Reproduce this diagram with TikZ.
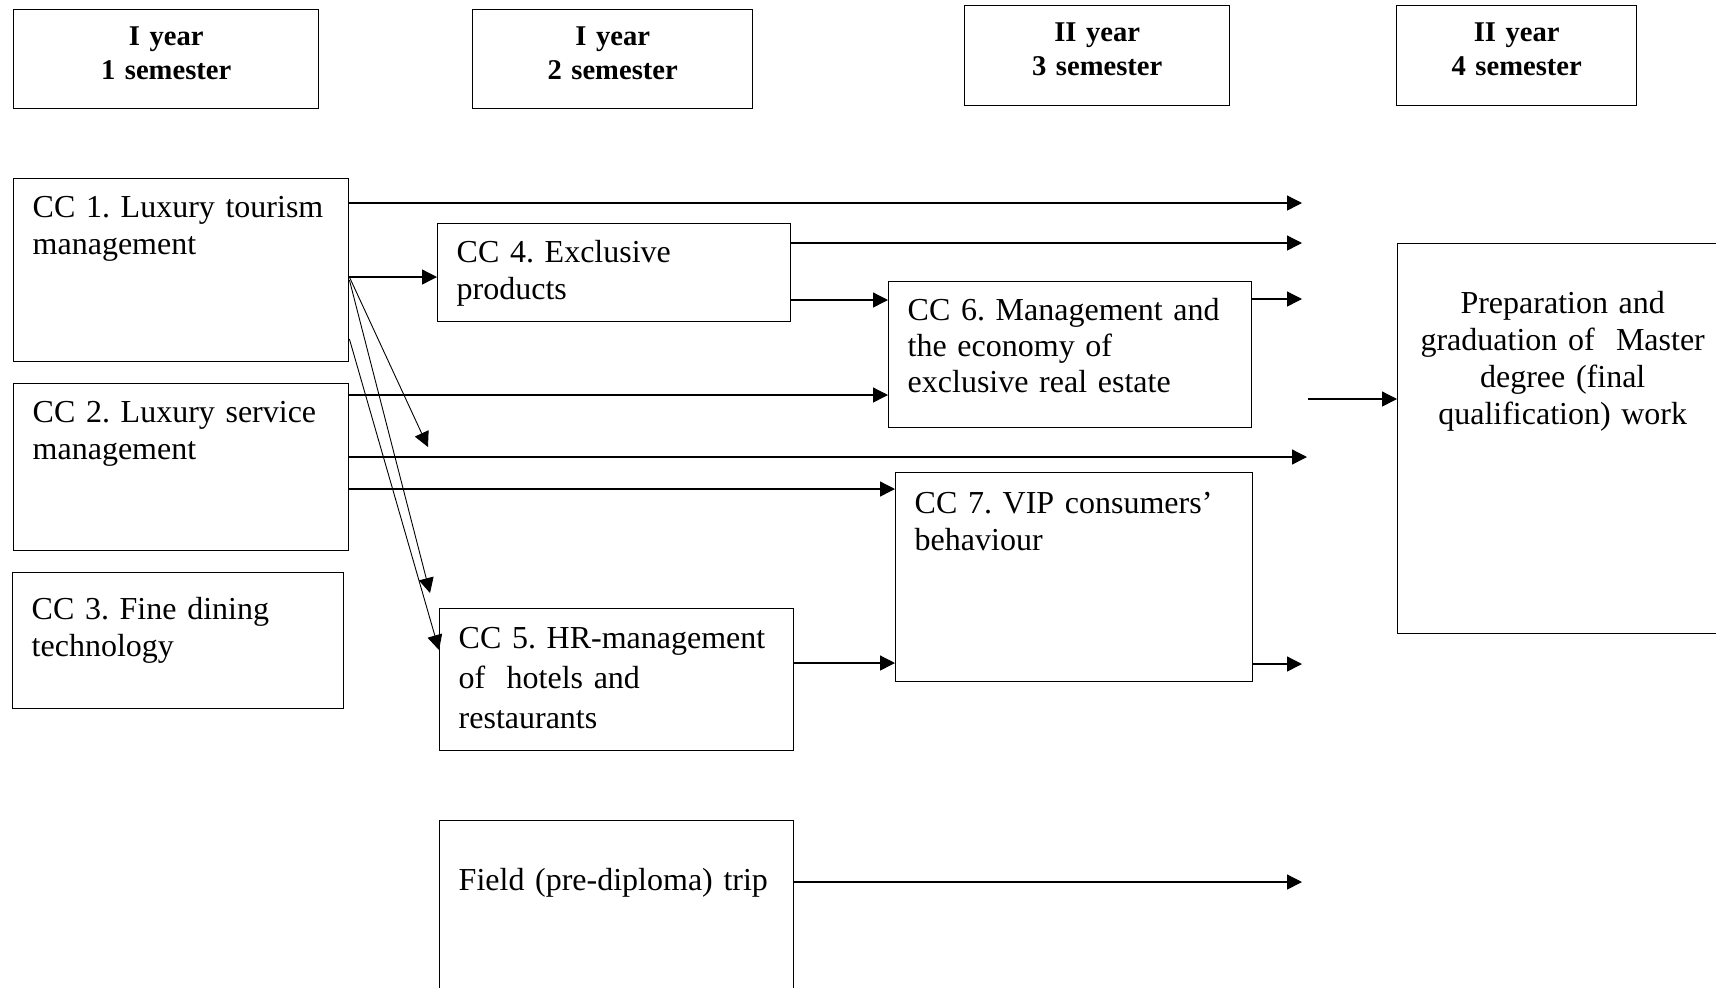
\documentclass[tikz,border=0pt]{standalone}
\usepackage{fontspec}
\setmainfont{Liberation Serif}
\usetikzlibrary{arrows.meta}
\frenchspacing

\begin{document}
\begin{tikzpicture}[
        x=0.5pt, y=-0.5pt,
        head/.style={draw, line width=0.7pt, anchor=north west, align=center, inner sep=0pt,
            font=\bfseries\fontsize{14.3}{17}\selectfont, text height=18pt},
        course/.style={draw, line width=0.7pt, anchor=north west, align=left, inner xsep=9.5pt,
            inner ysep=0pt, text height=19.5pt, font=\fontsize{16}{18.5}\selectfont},
        arrow/.style={-{Triangle[length=7.5pt, width=7.5pt]}, line width=0.65pt},
        slant/.style={arrow, line width=0.45pt}
    ]
        \useasboundingbox (0,0) rectangle (1716,987);
        \clip (0,0) rectangle (1716,987);

        % Headers
        \node [head, text width=152.5pt, text depth=31.5pt] (h1) at (13,9) {I year\\1 semester};
        \node [head, text width=140pt, text depth=31.5pt] (h2) at (472,9) {I year\\2 semester};
        \node [head, text width=132.5pt, text depth=32pt] (h3) at (964,5) {II year\\3 semester};
        \node [head, text width=120pt, text depth=32pt] (h4) at (1396,5) {II year\\4 semester};

        % Nodes
        \node [course, text width=148.5pt, text depth=72pt] (cc1) at (13,178) {CC 1. Luxury tourism\\management};
        \node [course, text width=148.5pt, text depth=64pt] (cc2) at (13,383) {CC 2. Luxury service\\management};
        \node [course, text width=146.5pt, text height=23.5pt, text depth=44.5pt] (cc3) at (12,572) {CC 3. Fine dining\\technology};
        \node [course, text width=157.5pt, text depth=29.5pt] (cc4) at (437,223) {CC 4. Exclusive\\products};
        \node [course, text width=158pt, text height=20pt, text depth=51pt,
            font=\fontsize{16}{20}\selectfont] (cc5) at (439,608) {CC 5. HR-management\\of\ \ hotels and\\restaurants};
        \node [course, text width=158pt, text height=35pt, text depth=65pt] (trip) at (439,820) {Field (pre-diploma) trip};
        \node [course, text width=162.5pt, text depth=53.5pt,
            font=\fontsize{16}{18}\selectfont] (cc6) at (888,281) {CC 6. Management and\\the economy of\\exclusive real estate};
        \node [course, text width=159.5pt, text height=20.5pt, text depth=84pt] (cc7) at (895,472) {CC 7. VIP consumers'\\behaviour};
        \node [course, align=center, inner xsep=5pt, text width=155pt, text height=35pt, text depth=160pt,
            font=\fontsize{16}{18.4}\selectfont] (fin) at (1397,243)
            {Preparation and\\graduation of\ \ Master\\degree (final\\qualification) work};

        % Free ends
        \coordinate (e1) at (1302,203);
        \coordinate (e2) at (1302,243);
        \coordinate (e3) at (1302,299);
        \coordinate (e4) at (1307,457);
        \coordinate (e5) at (1302,664);
        \coordinate (e6) at (1302,882);
        \coordinate (e7) at (428,447);
        \coordinate (e8) at (430,593);
        \coordinate (s1) at (1308,399);

        % Edges
        \draw [arrow] (cc1.east |- e1) -- (e1);
        \draw [arrow] (cc4.east |- e2) -- (e2);
        \draw [arrow] (cc1.east |- 0,277) -- (cc4.west |- 0,277);
        \draw [arrow] (cc4.east |- 0,300) -- (cc6.west |- 0,300);
        \draw [arrow] (cc6.east |- e3) -- (e3);
        \draw [arrow] (cc2.east |- 0,395) -- (cc6.west |- 0,395);
        \draw [arrow] (s1) -- (fin.west |- s1);
        \draw [arrow] (cc2.east |- e4) -- (e4);
        \draw [arrow] (cc2.east |- 0,489) -- (cc7.west |- 0,489);
        \draw [arrow] (cc5.east |- 0,663) -- (cc7.west |- 0,663);
        \draw [arrow] (cc7.east |- e5) -- (e5);
        \draw [arrow] (trip.east |- e6) -- (e6);

        \draw [slant] (cc1.east |- 0,277) -- (e7);
        \draw [slant] (cc1.east |- 0,280) -- (e8);
        \draw [slant] (cc1.east |- 0,339) -- (cc5.west |- 0,650);

    \end{tikzpicture}
\end{document}
